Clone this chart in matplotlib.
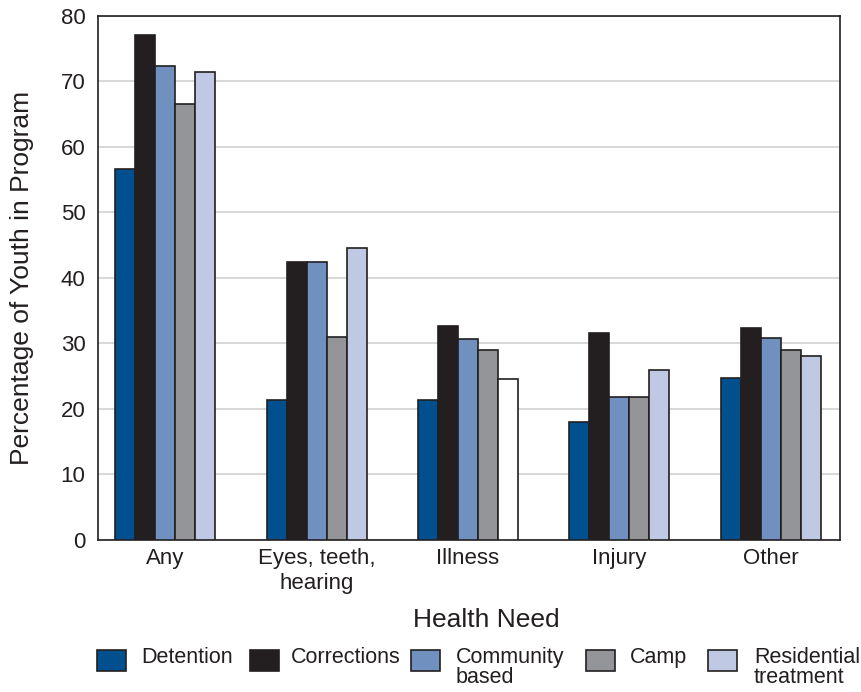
import numpy as np
import matplotlib.pyplot as plt
from matplotlib.patches import Rectangle

plt.rcParams['font.family'] = ['Liberation Sans', 'DejaVu Sans']

# -------------------------
# Data
# -------------------------
categories = ['Any', 'Eyes, teeth,\nhearing', 'Illness', 'Injury', 'Other']
programs = ['Detention', 'Corrections', 'Community\nbased', 'Camp', 'Residential\ntreatment']

detention = [56.7, 21.4, 21.4, 18.0, 24.8]
corrections = [77.1, 42.4, 32.7, 31.6, 32.4]
community = [72.3, 42.4, 30.7, 21.9, 30.9]
camp = [66.5, 31.0, 29.0, 21.9, 29.0]
residential = [71.4, 44.6, 24.6, 26.0, 28.1]

series = [detention, corrections, community, camp, residential]
colors = ['#00508f', '#231f20', '#7090c0', '#939598', '#bfc9e3']

# -------------------------
# Plot
# -------------------------
fig = plt.figure(figsize=(8.61, 6.92), dpi=100)
ax = fig.add_axes([0.1138, 0.2197, 0.8618, 0.7572])

x = np.arange(len(categories))
width = 0.132
for i, (vals, col) in enumerate(zip(series, colors)):
    fc = [col] * len(vals)
    if i == 4:
        fc[2] = 'white'  # the Illness bar is unfilled in the original
    ax.bar(x + (i - 2) * width, vals, width, color=fc,
           edgecolor='#231f20', linewidth=1.2, zorder=3)

ax.set_xlim(-0.444, 4.457)
ax.set_ylim(0, 80)
ax.set_yticks(np.arange(0, 81, 10))
ax.set_xticks(x)
ax.set_xticklabels(categories, fontsize=16, linespacing=1.25)
ax.tick_params(axis='both', length=0, labelsize=16, colors='#231f20')
ax.tick_params(axis='x', pad=6)
ax.tick_params(axis='y', pad=9)
ax.yaxis.grid(True, color='#d4d4d4', linewidth=1.3, zorder=0)
ax.set_axisbelow(True)
for sp in ax.spines.values():
    sp.set_color('#231f20')
    sp.set_linewidth(1.2)

ax.set_ylabel('Percentage of Youth in Program', fontsize=19, labelpad=19, color='#231f20')
ax.set_xlabel('Health Need', fontsize=19, labelpad=10, color='#231f20', x=0.523)

# Legend drawn by hand so the two-line labels hang below the first line
W, H = 861, 692
box_x = [97, 250, 411, 586, 708]
text_x = [141, 291, 456, 630, 754]
box_top, box_h, box_w = 650, 21, 29
for bx, tx, col, lab in zip(box_x, text_x, colors, programs):
    fig.patches.append(Rectangle((bx / W, 1 - (box_top + box_h) / H), box_w / W, box_h / H,
                                 transform=fig.transFigure, facecolor=col,
                                 edgecolor='#231f20', linewidth=1.2))
    fig.text(tx / W, 1 - (box_top - 3) / H, lab, fontsize=15.5, va='top', ha='left',
             color='#231f20', linespacing=0.95)

plt.savefig('out.png', dpi=100)
